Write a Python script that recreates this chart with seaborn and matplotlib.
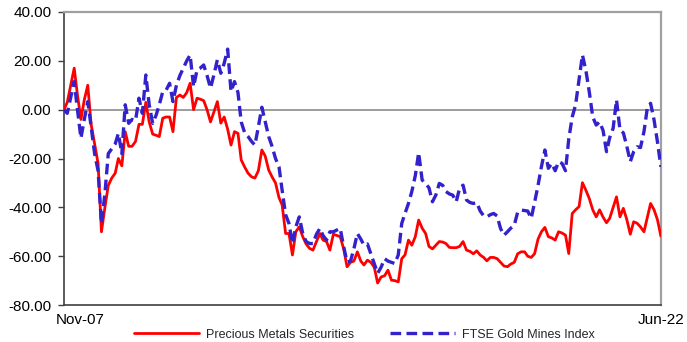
import matplotlib
matplotlib.use("Agg")
import matplotlib.pyplot as plt
import matplotlib.transforms as mtransforms
import numpy as np
import pandas as pd
import seaborn as sns

# Monthly cumulative performance (%), Nov-07 .. Jun-22
precious_metals = [
    0, 3, 10, 17, 6, -4, 4, 10, -6, -14,
    -22, -50, -40, -31, -28, -26, -20, -23, -9, -15,
    -15, -13, -6, -6, 3, -5, -10, -10.5, -11, -3.5,
    -3, -3, -9, 5, 6, 5, 7, 10.8, 0, 4.7,
    4.3, 3.7, 0, -5, -1, 3.3, -5.5, -3, -8, -14.5,
    -9, -9.7, -20.6, -23.5, -26, -27.5, -28, -25, -16.5, -19,
    -24.7, -27.5, -30, -36, -39, -50.7, -50.7, -59.5, -50, -48,
    -52, -55, -56.8, -57.5, -54, -50.7, -53.4, -54, -57.5, -51,
    -51.5, -52, -57, -64.3, -62.5, -62, -58.2, -62, -63.6, -61.6,
    -62.5, -64.5, -71, -68.5, -68, -65.7, -69.8, -70, -70.5, -61,
    -59.5, -53.4, -55.5, -52, -45.2, -48.5, -50.7, -56, -57, -55.5,
    -54, -54.2, -54.8, -56.4, -56.5, -56.5, -56, -54, -57.5, -58,
    -59, -57.8, -59.5, -60.5, -61.9, -60.5, -60.5, -61, -62.5, -64,
    -64.3, -63.2, -62.5, -59, -58.2, -58.2, -60, -60.5, -59, -53,
    -50, -48.2, -52, -52.5, -53.4, -50, -50.5, -51.4, -58.9, -42.5,
    -41, -39.7, -29.9, -33, -36.5, -41, -43.9, -41, -44, -46.3,
    -44.5, -40, -35.7, -43.9, -40.4, -45, -51, -45.9, -46.5, -48,
    -50, -44, -38.4, -41, -45, -51.8,
]

gold_mines = [
    0, -1.5, 5, 11.5, 0, -11.7, -4, 3.3, -7, -18,
    -25, -46.6, -34.3, -18, -16, -14, -9.7, -18, 2, -5.6,
    -4, -4.5, 4.7, -1.5, 14.2, 2, -5.6, -2.2, 2, 7.4,
    8, 10.8, 3.3, 10, 14, 17, 20, 22.4, 9.4, 16.3,
    17, 18.3, 14, 8.8, 14.2, 20.4, 14.9, 19, 24.8, 7.4,
    11.5, 7, -5, -9.5, -11, -13, -14.5, -7, 1, -5,
    -11, -15, -20, -23.4, -33, -43, -46.6, -54.8, -48, -43.9,
    -50.7, -54, -54.8, -54.8, -51, -48.6, -51.5, -53.4, -50, -50,
    -49.3, -48.6, -56.1, -62.3, -62, -57, -50.7, -53, -55.5, -55,
    -59, -63, -67, -64.5, -61, -62, -62.5, -63, -59.5, -46.6,
    -42.5, -38.4, -33.5, -27, -17.6, -28.8, -30.2, -32, -37.7, -35,
    -30.2, -31, -33.5, -34.5, -35, -37.7, -32.2, -30.9, -37, -38,
    -38.4, -38, -41.5, -43.5, -43.9, -43, -42.5, -43.5, -48.6, -51.4,
    -50, -48.5, -47.3, -42, -41.1, -41.3, -41.5, -44.5, -38, -31,
    -23.4, -16.5, -24, -22, -25, -21.3, -22, -25, -12, -3,
    2, 12.2, 22.4, 16, 7, -3, -6.3, -5, -8.5, -17.2,
    -11.5, -7.6, 4, -8.3, -9.5, -15, -21.3, -17.2, -15.2, -15.5,
    -9, 1, 2.6, -4.2, -13.1, -23.4,
]

dates = pd.date_range("2007-11-01", periods=len(precious_metals), freq="MS")
y_ticks = [-80, -60, -40, -20, 0, 20, 40]

df = pd.DataFrame({
    "date": dates,
    "Precious Metals Securities": precious_metals,
    "FTSE Gold Mines Index": gold_mines,
})

sns.set_style("white")
plt.rcParams["font.family"] = ["Liberation Sans", "DejaVu Sans"]

fig = plt.figure(figsize=(6.87, 3.42), dpi=100)
ax = fig.add_axes([0.093, 0.108, 0.869, 0.857])

ax.axhline(0, color="#8c8c8c", linewidth=1.2, zorder=1)

sns.lineplot(data=df, x="date", y="Precious Metals Securities", ax=ax,
             color="#ff0000", linewidth=2.0, label="Precious Metals Securities", zorder=3)
sns.lineplot(data=df, x="date", y="FTSE Gold Mines Index", ax=ax,
             color="#3322cc", linewidth=2.4, label="FTSE Gold Mines Index", zorder=4)
ax.lines[-1].set_dashes([3.2, 1.6])

ax.set_xlim(dates[0], dates[-1])
ax.set_ylim(-80, 40)
ax.set_yticks(y_ticks)
ax.set_yticklabels([f"{v:.2f}" for v in y_ticks])
ax.set_xticks([dates[0], dates[-1]])
ax.set_xticklabels([dates[0].strftime("%b-%y"), dates[-1].strftime("%b-%y")])
ax.set_xlabel("")
ax.set_ylabel("")

ax.tick_params(axis="y", which="major", left=True, length=4, width=1,
               color="#404040", labelsize=11, pad=5, labelcolor="black")
ax.tick_params(axis="x", which="major", bottom=False, length=0,
               labelsize=11, pad=6, labelcolor="black")

# first label sits a little inside the axis start
shift = mtransforms.ScaledTranslation(16.5 / 100, 0, fig.dpi_scale_trans)
first = ax.get_xticklabels()[0]
first.set_transform(first.get_transform() + shift)

for side in ["top", "right"]:
    ax.spines[side].set_color("#a0a0a0")
    ax.spines[side].set_linewidth(1.6)
for side in ["left", "bottom"]:
    ax.spines[side].set_color("#404040")
    ax.spines[side].set_linewidth(1.2)

ax.legend(loc="center", bbox_to_anchor=(364.5 / 687, 7.5 / 342),
          bbox_transform=fig.transFigure, ncol=2, frameon=False,
          fontsize=9, handlelength=5.2, columnspacing=2.9, handletextpad=0.56,
          borderpad=0.1)

fig.savefig("out.png", dpi=100)
